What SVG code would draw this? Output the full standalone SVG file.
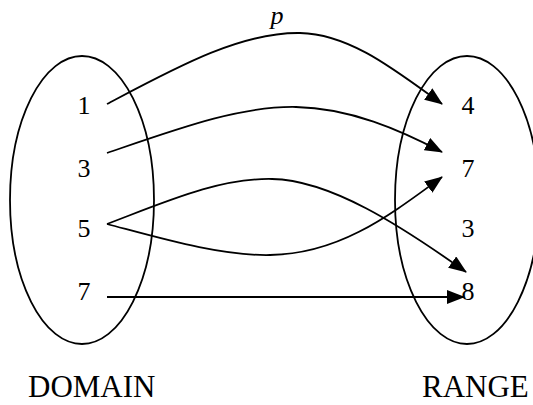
<svg xmlns="http://www.w3.org/2000/svg" width="533" height="405" viewBox="0 0 533 405">
<defs>
<style>
.set{fill:none;stroke:#000;stroke-width:1.8}
.arr{fill:none;stroke:#000;stroke-width:1.8;marker-end:url(#ah)}
.num{font-family:"Liberation Serif","Times New Roman",serif;font-size:26px;fill:#000;text-anchor:middle}
.lbl{font-family:"Liberation Serif","Times New Roman",serif;font-size:31px;fill:#000}
</style>
<marker id="ah" markerUnits="userSpaceOnUse" markerWidth="18" markerHeight="14" refX="17" refY="7" orient="auto">
<path d="M0,0 L18,7 L0,14 z" fill="#000"/>
</marker>
</defs>
<rect width="533" height="405" fill="#fff"/>
<g id="domain">
<ellipse class="set" cx="82" cy="200" rx="72" ry="144"/>
<text class="num" x="84" y="114">1</text>
<text class="num" x="84" y="177">3</text>
<text class="num" x="84" y="237">5</text>
<text class="num" x="84" y="300">7</text>
<text class="lbl" x="28" y="397">DOMAIN</text>
</g>
<g id="range">
<ellipse class="set" cx="467" cy="200" rx="72" ry="144"/>
<text class="num" x="468" y="114">4</text>
<text class="num" x="468" y="177">7</text>
<text class="num" x="468" y="237">3</text>
<text class="num" x="468" y="300">8</text>
<text class="lbl" x="422" y="397">RANGE</text>
</g>
<g id="connectors">
<path class="arr" d="M107,104 C175,68 240,32 300,33 C350,34 395,70 442,104"/>
<path class="arr" d="M107,153 C180,128 240,106 296,107 C350,108 400,130 442,152"/>
<path class="arr" d="M107,224 C170,200 220,178 272,179 C330,180 400,225 466,272"/>
<path class="arr" d="M107,224 C160,238 220,256 270,255 C340,254 390,215 442,177"/>
<path class="arr" d="M107,297 L464,297"/>
<text x="277" y="24" font-family="Liberation Serif, Times New Roman, serif" font-style="italic" font-size="26" text-anchor="middle">p</text>
</g>
</svg>
